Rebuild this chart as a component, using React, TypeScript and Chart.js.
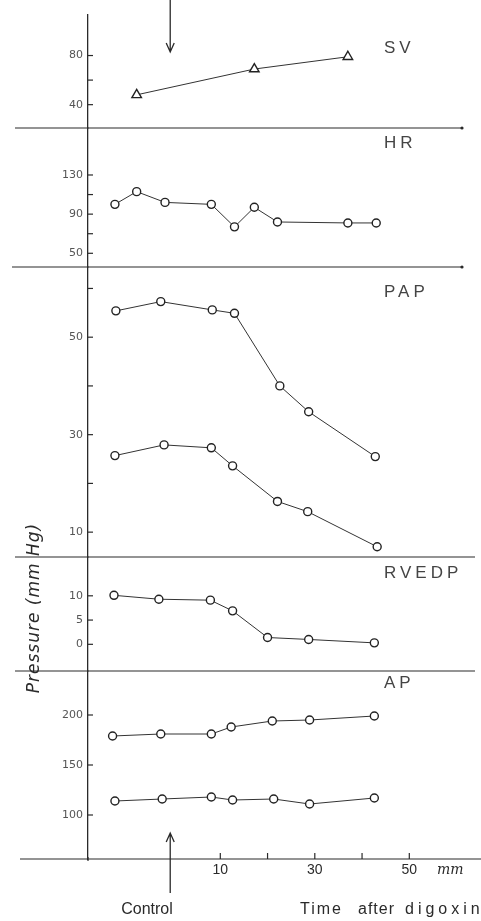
import React, { useEffect, useRef } from 'react';
import { Chart, registerables } from 'chart.js';

Chart.register(...registerables);

// ---- data (time in min after digoxin, values per panel) ----
const svTime = [-7.7, 17.2, 37];
const svValues = [48, 69, 79];

const hrTime = [-12.3, -7.7, -1.7, 8.1, 13, 17.2, 22.1, 37, 43];
const hrValues = [100, 113, 102, 100, 77, 97, 82, 81, 81];

const papSysTime = [-12.1, -2.6, 8.3, 13, 22.6, 28.7, 42.8];
const papSysValues = [55.4, 57.3, 55.6, 54.9, 40.0, 34.7, 25.5];
const papDiaTime = [-12.3, -1.9, 8.1, 12.6, 22.1, 28.5, 43.2];
const papDiaValues = [25.7, 27.9, 27.3, 23.6, 16.3, 14.2, 7.0];

const rvTime = [-12.5, -3, 7.9, 12.6, 20, 28.7, 42.6];
const rvValues = [10.1, 9.3, 9.1, 6.9, 1.4, 1.0, 0.3];

const apSysTime = [-12.8, -2.6, 8.1, 12.3, 21, 28.9, 42.6];
const apSysValues = [179, 181, 181, 188, 194, 195, 199];
const apDiaTime = [-12.3, -2.3, 8.1, 12.6, 21.3, 28.9, 42.6];
const apDiaValues = [114, 116, 118, 115, 116, 111, 117];

// ---- ticks ----
const xTickValues = [10, 20, 30, 40, 50];
const xTickLabels = ['10', '', '30', '', '50'];
const svTicks = [40, 60, 80];
const svTickLabels = ['40', '', '80'];
const hrTicks = [50, 70, 90, 110, 130];
const hrTickLabels = ['50', '', '90', '', '130'];
const papTicks = [10, 20, 30, 40, 50, 60];
const papTickLabels = ['10', '', '30', '', '50', ''];
const rvTicks = [0, 5, 10];
const rvTickLabels = ['0', '5', '10'];
const apTicks = [100, 150, 200];
const apTickLabels = ['100', '150', '200'];

const panelNames = ['SV', 'HR', 'PAP', 'RVEDP', 'AP'];
const controlTime = -0.6;
const xUnit = 'mm';
const controlLabel = 'Control';
const timeWords = ['Time', 'after', 'digoxin'];
const yTitle = 'Pressure (mm Hg)';

const pts = (t: number[], v: number[]) => t.map((x, i) => ({ x, y: v[i] }));

const INK = '#2a2a2a';

function yScale(min: number, max: number, weight: number, ticks: number[], labels: string[]) {
  return {
    type: 'linear',
    position: 'left',
    stack: 'panels',
    stackWeight: weight,
    min,
    max,
    border: { display: true, color: INK, width: 1.3 },
    grid: { display: false, drawTicks: false },
    afterBuildTicks: (s: any) => {
      s.ticks = ticks.map((value) => ({ value }));
    },
    afterFit: (s: any) => {
      s.width = 88;
    },
    ticks: {
      padding: 5,
      autoSkip: false,
      color: '#555',
      font: { family: 'DejaVu Sans', size: 11 },
      callback: (_v: any, i: number) => labels[i],
    },
  };
}

const decor = {
  id: 'decor',
  afterDraw(chart: any) {
    const ctx = chart.ctx as CanvasRenderingContext2D;
    const xs = chart.scales.x;
    ctx.save();
    ctx.strokeStyle = INK;
    ctx.fillStyle = INK;
    ctx.lineWidth = 1.2;

    // panel divider lines
    const dividers: [string, number, number, boolean][] = [
      ['ySV', 15, 462, true],
      ['yHR', 12, 462, true],
      ['yPAP', 15, 475, false],
      ['yRV', 15, 475, false],
    ];
    dividers.forEach(([id, x0, x1, arrow]) => {
      const y = chart.scales[id].bottom;
      ctx.beginPath();
      ctx.moveTo(x0, y);
      ctx.lineTo(x1, y);
      ctx.stroke();
      if (arrow) {
        ctx.beginPath();
        ctx.arc(x1, y, 1.6, 0, Math.PI * 2);
        ctx.fill();
      }
    });
    // bottom axis line extended
    ctx.beginPath();
    ctx.moveTo(20, xs.top);
    ctx.lineTo(481, xs.top);
    ctx.stroke();
    const ax = chart.scales.yAP.right;
    ctx.beginPath();
    ctx.moveTo(ax, xs.top - 2);
    ctx.lineTo(ax, xs.top + 2);
    ctx.stroke();

    // inward y ticks
    ['ySV', 'yHR', 'yPAP', 'yRV', 'yAP'].forEach((id) => {
      const s = chart.scales[id];
      s.ticks.forEach((t: any) => {
        const py = s.getPixelForValue(t.value);
        ctx.beginPath();
        ctx.moveTo(s.right, py);
        ctx.lineTo(s.right + 5, py);
        ctx.stroke();
      });
    });
    // upward x ticks
    xs.ticks.forEach((t: any) => {
      const px = xs.getPixelForValue(t.value);
      ctx.beginPath();
      ctx.moveTo(px, xs.top);
      ctx.lineTo(px, xs.top - 6);
      ctx.stroke();
    });

    // control arrows
    const cx = xs.getPixelForValue(controlTime);
    ctx.lineWidth = 1.3;
    ctx.beginPath();
    ctx.moveTo(cx, 0);
    ctx.lineTo(cx, 52);
    ctx.moveTo(cx - 4, 43);
    ctx.lineTo(cx, 52);
    ctx.lineTo(cx + 4, 43);
    ctx.stroke();
    ctx.beginPath();
    ctx.moveTo(cx, 893);
    ctx.lineTo(cx, 833);
    ctx.moveTo(cx - 4, 842);
    ctx.lineTo(cx, 833);
    ctx.lineTo(cx + 4, 842);
    ctx.stroke();

    // panel labels
    const labelOffsets = [33, 15, 25, 16, 12];
    const labelScales = ['ySV', 'yHR', 'yPAP', 'yRV', 'yAP'];
    ctx.fillStyle = '#444';
    ctx.font = '17px "Liberation Sans", sans-serif';
    ctx.textBaseline = 'middle';
    ctx.textAlign = 'left';
    (ctx as any).letterSpacing = '4px';
    panelNames.forEach((name, i) => {
      const s = chart.scales[labelScales[i]];
      ctx.fillText(name, 384, s.top + labelOffsets[i]);
    });
    (ctx as any).letterSpacing = '0px';

    // x unit
    ctx.fillStyle = INK;
    ctx.font = 'italic 14px "DejaVu Serif", serif';
    ctx.fillText(xUnit, 437, xs.top + 11);

    // bottom captions
    ctx.font = '16px "Liberation Sans", sans-serif';
    ctx.textAlign = 'center';
    ctx.fillText(controlLabel, 147, 910);
    ctx.textAlign = 'left';
    const wordX = [300, 358, 405];
    const wordSpacing = ['2px', '1px', '4px'];
    timeWords.forEach((w, i) => {
      (ctx as any).letterSpacing = wordSpacing[i];
      ctx.fillText(w, wordX[i], 910);
    });
    (ctx as any).letterSpacing = '0px';

    // y title
    ctx.save();
    ctx.translate(35, 608);
    ctx.rotate(-Math.PI / 2);
    ctx.textAlign = 'center';
    ctx.font = 'italic 17px "DejaVu Sans", sans-serif';
    (ctx as any).letterSpacing = '1px';
    ctx.fillText(yTitle, 0, 0);
    ctx.restore();

    ctx.restore();
  },
};

function lineDs(data: any[], yAxisID: string, triangle = false) {
  return {
    data,
    yAxisID,
    xAxisID: 'x',
    borderColor: '#333',
    borderWidth: 1,
    pointStyle: triangle ? 'triangle' : 'circle',
    pointRadius: triangle ? 5.5 : 4,
    pointBorderWidth: 1.4,
    pointBorderColor: '#222',
    pointBackgroundColor: '#fff',
    tension: 0,
    fill: false,
  };
}

export default function App() {
  const ref = useRef<HTMLCanvasElement | null>(null);
  useEffect(() => {
    document.body.style.margin = '0';
    document.body.style.overflow = 'hidden';
    if (!ref.current) return;
    const chart = new Chart(ref.current, {
      type: 'line',
      data: {
        datasets: [
          lineDs(pts(svTime, svValues), 'ySV', true),
          lineDs(pts(hrTime, hrValues), 'yHR'),
          lineDs(pts(papSysTime, papSysValues), 'yPAP'),
          lineDs(pts(papDiaTime, papDiaValues), 'yPAP'),
          lineDs(pts(rvTime, rvValues), 'yRV'),
          lineDs(pts(apSysTime, apSysValues), 'yAP'),
          lineDs(pts(apDiaTime, apDiaValues), 'yAP'),
        ] as any,
      },
      options: {
        animation: false,
        responsive: true,
        maintainAspectRatio: false,
        layout: { padding: { top: 15, right: 15, left: 0, bottom: 0 } },
        plugins: { legend: { display: false }, tooltip: { enabled: false } },
        scales: {
          x: {
            type: 'linear',
            min: -18,
            max: 62,
            border: { display: false },
            grid: { display: false, drawTicks: false },
            afterBuildTicks: (s: any) => {
              s.ticks = xTickValues.map((value) => ({ value }));
            },
            afterFit: (s: any) => {
              s.height = 62;
            },
            ticks: {
              padding: 3,
              autoSkip: false,
              maxRotation: 0,
              color: INK,
              font: { family: 'Liberation Sans', size: 14 },
              callback: (_v: any, i: number) => xTickLabels[i],
            },
          },
          yAP: yScale(56, 244, 188, apTicks, apTickLabels),
          yRV: yScale(-5.5, 18, 114, rvTicks, rvTickLabels),
          yPAP: yScale(4.9, 64.4, 290, papTicks, papTickLabels),
          yHR: yScale(36, 178, 139, hrTicks, hrTickLabels),
          ySV: yScale(21, 113, 113, svTicks, svTickLabels),
        } as any,
      },
      plugins: [decor],
    });
    return () => chart.destroy();
  }, []);
  return (
    <div style={{ position: 'absolute', left: 0, top: 0, width: 481, height: 921 }}>
      <canvas ref={ref} />
    </div>
  );
}
